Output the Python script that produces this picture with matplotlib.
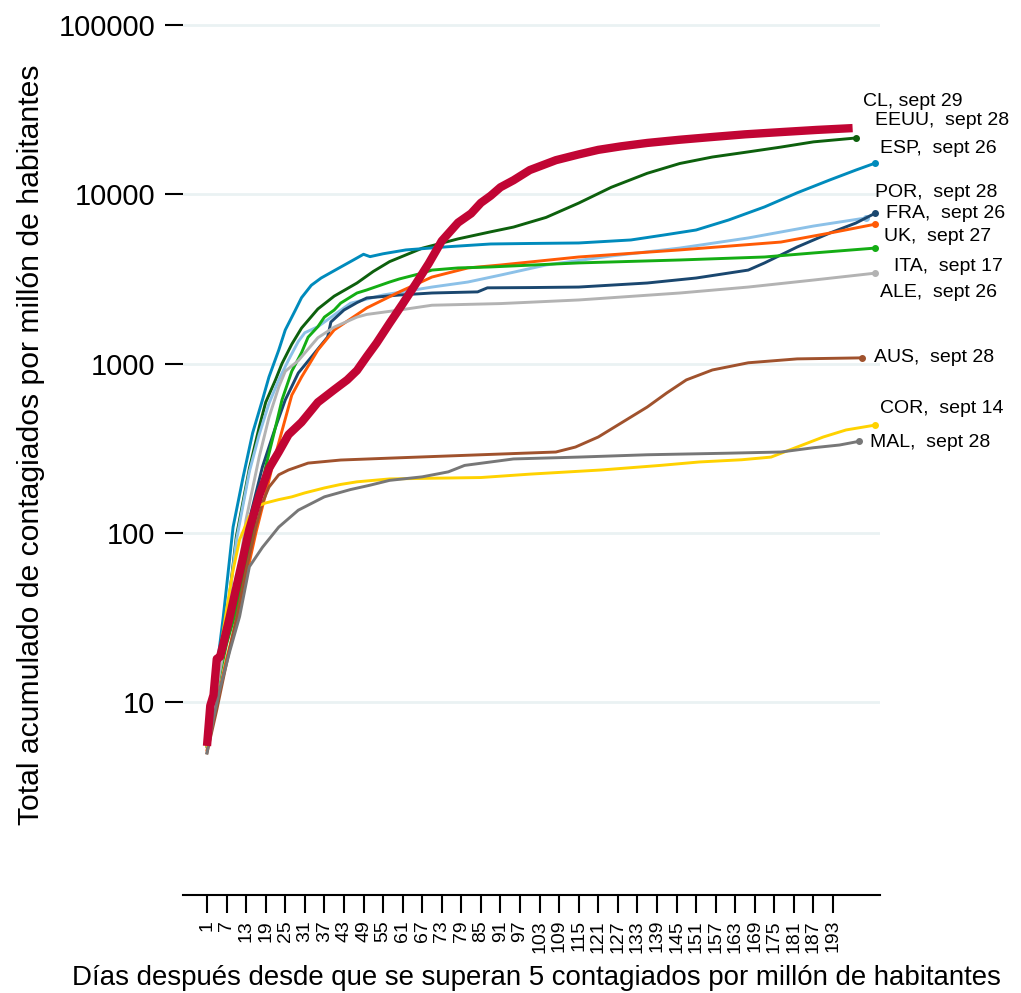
import numpy as np
import matplotlib
matplotlib.use('Agg')
import matplotlib.pyplot as plt
from matplotlib.ticker import NullLocator

plt.rcParams['font.family'] = 'Liberation Sans'

# ---------------- datos ----------------
# dias desde que se superan 5 contagiados por millon / contagiados acumulados por millon

cl_dias = [1, 2, 3, 4, 5, 6, 8, 11, 14, 17, 20, 23, 26, 30, 35, 40, 44, 47, 50, 53, 57, 61, 65, 69,
           73, 78, 82, 85, 88, 91, 95, 100, 108, 115, 121, 128, 136, 146, 156, 166, 177, 188, 199]
cl_val = [5.5, 9.5, 11, 18, 18.5, 22, 32, 58, 105, 165, 240, 300, 380, 450, 590, 700, 800, 910, 1100,
          1320, 1730, 2250, 2950, 3900, 5300, 6800, 7700, 8900, 9800, 11000, 12100, 13900, 15900,
          17200, 18300, 19200, 20100, 21000, 21800, 22600, 23300, 24000, 24600]

eeuu_dias = [1, 4, 7, 10, 14, 17, 19, 22, 24, 27, 30, 35, 40, 47, 52, 57, 67, 78, 88, 95, 105, 115,
             125, 136, 146, 156, 167, 177, 187, 200]
eeuu_val = [5.5, 14, 30, 95, 240, 420, 590, 800, 1000, 1300, 1620, 2100, 2500, 2990, 3500, 4000,
            4800, 5450, 6000, 6400, 7300, 8870, 11000, 13300, 15200, 16600, 17800, 19000, 20400, 21500]

esp_dias = [1, 3, 6, 9, 12, 15, 18, 20, 23, 25, 28, 30, 33, 36, 42, 46, 49, 51, 55, 62, 75, 88, 100,
            115, 131, 141, 151, 161, 172, 182, 192, 200, 206]
esp_val = [5.5, 11, 32, 108, 210, 389, 609, 832, 1200, 1578, 2050, 2450, 2900, 3200, 3715, 4100,
           4420, 4280, 4450, 4690, 4900, 5085, 5120, 5155, 5370, 5740, 6150, 7050, 8420, 10200,
           12150, 13900, 15300]

por_dias = [1, 4, 7, 10, 14, 17, 20, 23, 26, 29, 31, 35, 45, 55, 70, 81, 91, 105, 125, 146, 167,
            187, 203]
por_val = [5.5, 13, 30, 90, 230, 380, 580, 800, 1050, 1350, 1520, 1650, 2270, 2540, 2830, 3030,
           3330, 3820, 4320, 4810, 5520, 6490, 7240]

fra_dias = [1, 4, 7, 9, 13, 18, 22, 25, 29, 33, 38, 39, 43, 47, 50, 60, 70, 84, 87, 100, 115, 136,
            151, 167, 172, 182, 192, 200, 206]
fra_val = [5.5, 12, 24, 32, 100, 245, 420, 609, 879, 1092, 1434, 1759, 2070, 2290, 2440, 2540,
           2610, 2650, 2800, 2810, 2830, 2990, 3200, 3565, 3930, 4880, 5900, 6760, 7740]

uk_dias = [1, 4, 7, 10, 13, 16, 19, 21, 24, 27, 30, 35, 40, 50, 60, 70, 81, 91, 115, 146, 177, 192,
           206]
uk_val = [5.2, 10, 18, 30, 55, 100, 170, 245, 400, 650, 832, 1202, 1578, 2130, 2650, 3243, 3670,
          3820, 4260, 4690, 5220, 5900, 6660]

ita_dias = [1, 4, 7, 10, 15, 19, 22, 24, 27, 30, 32, 35, 37, 40, 42, 47, 50, 57, 60, 67, 70, 78, 88,
            115, 146, 172, 187, 206]
ita_val = [5.5, 12, 22, 35, 100, 245, 420, 610, 900, 1160, 1430, 1650, 1880, 2070, 2275, 2610, 2720,
           3030, 3160, 3420, 3565, 3670, 3720, 3930, 4090, 4260, 4500, 4810]

ale_dias = [1, 4, 7, 10, 13, 17, 20, 23, 25, 29, 35, 40, 47, 50, 60, 70, 91, 115, 146, 167, 187, 206]
ale_val = [5.5, 12, 25, 45, 120, 280, 480, 726, 900, 1040, 1420, 1640, 1880, 1950, 2070, 2210, 2260,
           2374, 2610, 2830, 3113, 3420]

aus_dias = [1, 4, 7, 10, 13, 16, 18, 20, 23, 26, 32, 42, 57, 85, 108, 114, 121, 128, 136, 142, 148,
            156, 167, 182, 202]
aus_val = [5.0, 9, 17, 31, 60, 108, 150, 186, 220, 235, 258, 269, 276, 289, 300, 321, 368, 445, 553,
           670, 800, 916, 1010, 1065, 1080]

cor_dias = [1, 4, 7, 9, 11, 14, 17, 19, 23, 27, 31, 37, 42, 47, 57, 70, 85, 100, 122, 140, 152, 165,
            174, 182, 190, 197, 206]
cor_val = [5.5, 15, 35, 60, 91, 125, 145, 150, 157, 163, 172, 184, 193, 200, 208, 210, 212, 222, 235,
           250, 262, 270, 280, 321, 368, 405, 433]

mal_dias = [1, 3, 5, 8, 11, 14, 18, 23, 29, 37, 45, 51, 57, 67, 75, 80, 88, 95, 115, 136, 160, 177,
            187, 195, 201]
mal_val = [5.0, 8, 12, 20, 32, 63, 82, 108, 136, 163, 180, 191, 204, 214, 229, 250, 262, 273, 280,
           289, 295, 300, 318, 330, 347]

etiquetas = ['CL, sept 29', 'EEUU,  sept 28', 'ESP,  sept 26', 'POR,  sept 28', 'FRA,  sept 26',
             'UK,  sept 27', 'ITA,  sept 17', 'ALE,  sept 26', 'AUS,  sept 28', 'COR,  sept 14',
             'MAL,  sept 28']

dias_ticks = list(range(1, 194, 6))

# ---------------- estilos ----------------
series = [
    (eeuu_dias, eeuu_val, '#0d600d', (19, 18)),
    (esp_dias, esp_val, '#008bbc', (5, 15)),
    (por_dias, por_val, '#8cc1e8', (9, 26)),
    (fra_dias, fra_val, '#1a476f', (11, 0)),
    (uk_dias, uk_val, '#ff5a05', (9, -12)),
    (ita_dias, ita_val, '#14ad14', (19, -18)),
    (ale_dias, ale_val, '#b3b3b3', (5, -19)),
    (aus_dias, aus_val, '#a0522d', (12, 0)),
    (cor_dias, cor_val, '#ffd200', (5, 17)),
    (mal_dias, mal_val, '#777777', (11, -1)),
]

fig = plt.figure(figsize=(10.21, 9.93), dpi=100)
ax = fig.add_axes([183 / 1021, 98 / 993, 697 / 1021, 880 / 993])
ax.set_yscale('log')
ax.set_ylim(0.724, 114600)
ax.set_xlim(-6.36, 207.4)

for (d, v, col, off), lab in zip(series, etiquetas[1:]):
    ax.plot(d, v, color=col, lw=2.1, zorder=3)
    ax.plot(d[-1], v[-1], 'o', color=col, ms=4, zorder=3)
    ax.annotate(lab, xy=(d[-1], v[-1]), xytext=(off[0], off[1]), textcoords='offset pixels',
                ha='left', va='center', fontsize=14, annotation_clip=False)

ax.plot(cl_dias, cl_val, color='#c10534', lw=6, zorder=4, solid_capstyle='butt')
ax.annotate(etiquetas[0], xy=(cl_dias[-1], cl_val[-1]), xytext=(10, 27), textcoords='offset pixels',
            ha='left', va='center', fontsize=14, annotation_clip=False)

ax.set_yticks([10, 100, 1000, 10000, 100000])
ax.set_yticklabels(['10', '100', '1000', '10000', '100000'])
ax.yaxis.set_minor_locator(NullLocator())
ax.set_xticks(dias_ticks)
ax.set_xticklabels([str(t) for t in dias_ticks], rotation=90)
ax.tick_params(axis='y', length=13, width=1.5, pad=7, labelsize=21)
ax.tick_params(axis='x', length=13, width=1.5, pad=5, labelsize=14)

for s in ['left', 'top', 'right']:
    ax.spines[s].set_visible(False)
ax.spines['bottom'].set_linewidth(1.5)
ax.grid(axis='y', color='#eaf2f3', lw=2)
ax.set_axisbelow(True)

fig.text(31 / 1021, 1 - 445 / 993, 'Total acumulado de contagiados por millón de habitantes',
         rotation=90, ha='center', va='center', fontsize=21.7)
fig.text(536 / 1021, 1 - 978 / 993,
         'Días después desde que se superan 5 contagiados por millón de habitantes',
         ha='center', va='center', fontsize=19.9)

fig.savefig('out.png', dpi=100)
